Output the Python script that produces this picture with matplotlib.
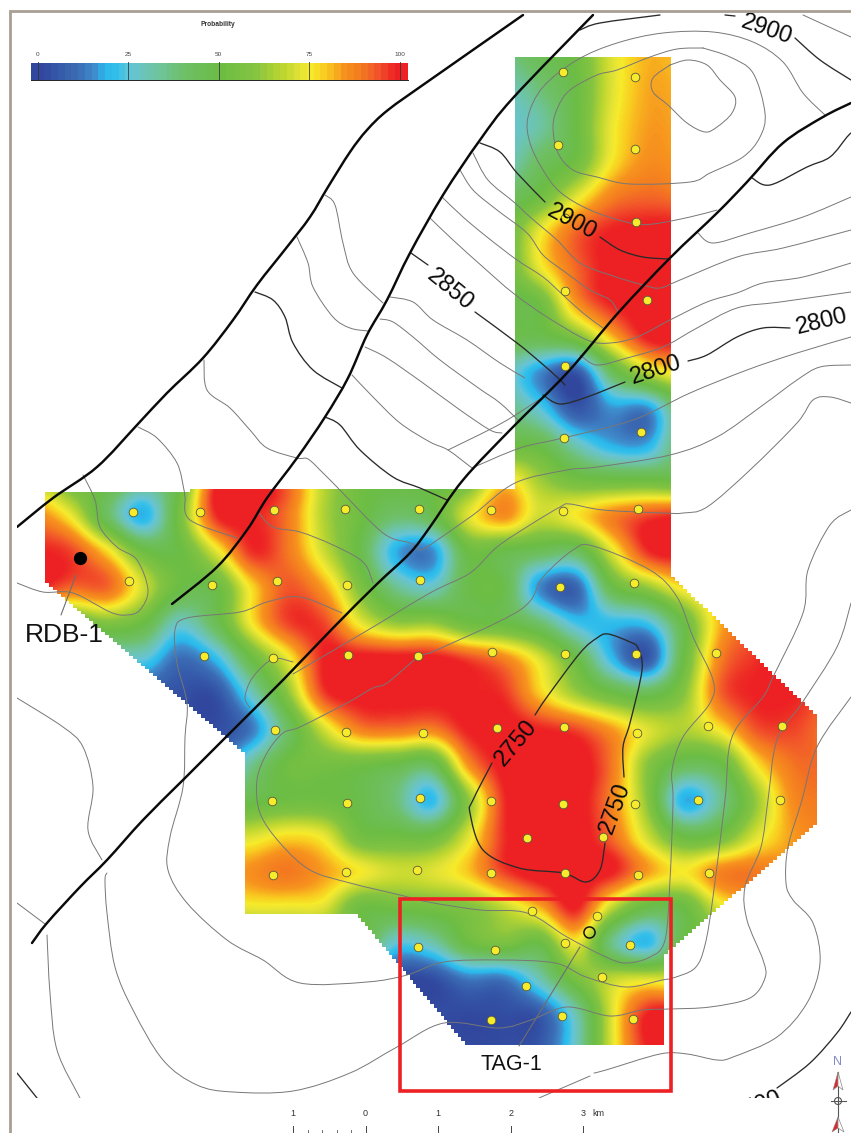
import numpy as np
import matplotlib
matplotlib.use("Agg")
import matplotlib.pyplot as plt
from matplotlib.colors import LinearSegmentedColormap, Normalize
from matplotlib.patches import PathPatch, Polygon, Rectangle, Circle
from matplotlib.path import Path

plt.rcParams['font.family'] = ['Liberation Sans', 'DejaVu Sans']

# ---------- probability field, read on a 36 px lattice of the map ----------
GRID_X = list(range(36, 829, 36))
GRID_Y = list(range(54, 1063, 36))
P_ROWS = {
 54:  (504, [36,45,52,72,82,80]),
 90:  (504, [28,38,50,72,83,82]),
 126: (504, [26,32,50,74,84,83]),
 162: (504, [27,42,52,76,86,84]),
 198: (504, [42,52,72,88,92,90]),
 234: (504, [50,74,92,100,102,102]),
 270: (504, [50,74,92,102,103,102]),
 306: (504, [48,52,85,100,102,102]),
 342: (504, [48,46,55,80,100,102]),
 378: (504, [30,14,3,42,66,78]),
 414: (504, [38,25,5,15,14,46]),
 450: (504, [50,48,30,18,18,44]),
 486: (36,  [68,54,50,38,50,96,102,90,66,52,50,50,55,78,64,54,52,52,50]),
 522: (36,  [88,74,42,18,55,98,100,90,66,52,40,46,72,86,70,76,88,96,100]),
 558: (36,  [100,96,78,52,50,72,98,90,70,48,18,14,50,48,44,42,72,98,102,100]),
 594: (36,  [100,92,92,70,50,50,78,94,84,58,35,28,48,48,14,8,48,62,78,85]),
 630: (72,  [50,58,50,28,45,76,96,96,74,62,62,52,50,40,22,20,22,50,82,92]),
 666: (144, [25,10,20,50,74,100,102,102,102,96,88,72,50,20,5,50,88,98,100]),
 702: (144, [5,3,3,28,60,96,102,102,102,100,98,80,64,52,46,60,92,100,100,95]),
 738: (180, [2,2,12,42,70,88,90,88,100,102,100,96,85,72,66,76,94,96,90]),
 774: (216, [10,35,52,54,52,48,44,85,102,104,104,90,60,44,48,76,90,92]),
 810: (216, [40,48,52,52,48,38,20,60,98,104,103,88,60,18,34,62,86,90]),
 846: (216, [70,72,78,74,54,52,52,72,98,104,103,92,70,50,54,72,84,88]),
 882: (216, [80,86,90,84,76,70,72,80,96,104,103,100,84,76,88,90,85,85]),
 918: (216, [72,74,74,72,52,52,54,58,68,82,100,68,48,50,72,80,80,80]),
 954: (324, [50,50,25,30,50,56,50,74,36,20,50]),
 990: (360, [20,2,2,12,12,30,55,68,72,70]),
 1026:(396, [2,2,1,2,5,30,72,100,102]),
 1062:(396, [2,2,1,2,5,28,72,100,102]),
}

CMAP_POS = [0, 10, 15, 18, 21, 25, 32, 40, 50, 60, 68, 73, 76, 80, 85, 90, 94, 100]
CMAP_COL = ['#31479e', '#3b6db5', '#3f8fcf', '#2ab8ec', '#35c0ea', '#67c5d6', '#6ec4a4', '#6fc068',
            '#6bbd45', '#85c441', '#bfd730', '#e5e436', '#f6eb2a', '#f9cb20', '#f7941e', '#f47a20',
            '#f2592a', '#ed2024']

# ---------- wells ----------
WELL_X = [563,635,558,635,636,565,565,647,565,564,641,
          133,200,274,345,419,491,563,638,
          129,212,277,347,420,560,634,
          204,273,348,418,492,565,636,716,
          275,346,423,497,564,637,708,782,
          272,347,420,491,563,635,698,780,527,603,
          273,346,417,491,565,638,709,
          532,597,565,630,418,495,602,526,491,562,633]
WELL_Y = [72,77,145,149,222,218,291,300,366,438,432,
          512,512,510,509,509,510,511,509,
          581,585,581,585,580,587,583,
          656,658,655,656,652,654,654,653,
          730,732,733,728,727,733,726,726,
          801,803,798,801,804,804,800,800,838,837,
          875,872,870,873,873,875,873,
          911,916,943,945,947,950,977,986,1020,1016,1019]
WELL_TAG = (589, 932)
WELL_RDB = (80, 558)

# ---------- faults ----------
FAULTS = [
 [(523,15),(430,80),(388,110),(367,130),(350,152),(328,187),(310,217),(287,247),(257,285),(233,320),(203,358),
  (167,393),(137,425),(97,467),(53,498),(17,527)],
 [(593,15),(513,98),(480,140),(443,195),(410,253),(387,300),(367,335),(348,378),(325,417),(297,458),
  (267,498),(247,530),(217,567),(172,604)],
 [(851,103),(823,117),(783,143),(747,182),(717,213),(670,258),(618,313),(567,373),
  (513,427),(463,480),(430,527),(410,553),(377,584),(333,628),(283,680),(233,730),(183,780),
  (143,820),(107,860),(80,887),(47,923),(32,943)],
]

# ---------- contours ----------
DARK_LINES = [
 [(580,30),(600,23),(660,15)],
 [(725,15),(735,16)],
 [(795,38),(820,60),(851,80)],
 [(480,143),(500,152),(517,173),(545,202)],
 [(600,237),(620,250),(643,257),(668,259)],
 [(752,178),(770,185),(807,167),(830,157),(847,137),(851,133)],
 [(411,253),(428,265)],
 [(475,312),(517,343),(540,362),(557,377),(565,385)],
 [(543,395),(560,404),(587,397),(625,382)],
 [(688,361),(707,355),(737,337),(763,328),(790,328)],
 [(255,292),(273,300),(285,317),(293,343),(313,370),(342,388)],
 [(325,417),(340,425),(360,450),(393,477),(420,488),(447,500)],
 [(535,715),(547,697),(580,653),(597,638),(608,634),(630,642),(638,648),(642,670),(630,723),(623,747),(624,777)],
 [(605,843),(600,870),(586,882),(563,873),(519,868),(483,850),(470,813),(473,800),(492,763)],
 [(777,1088),(810,1063),(837,1033),(851,1012)],
 [(17,1073),(37,1098)],
]
GRAY_LINES = [
 [(670,65),(688,60),(707,65),(720,80),(735,97),(732,113),(717,127),(705,132),(687,123),(668,105),(653,92),(653,78),(670,65)],
 [(703,48),(730,57),(753,73),(765,113),(760,137),(743,157),(710,173),(690,182),(630,184),(597,177),(573,170),(558,153),
  (553,127),(558,107),(570,90),(597,75),(617,70),(650,57),(677,49),(703,48)],
 [(825,115),(803,93),(783,62),(753,42),(713,32),(663,33),(617,43),(577,60),(543,87),(528,117),(530,143),(543,170),
  (560,192),(590,210),(630,223),(653,224),(690,217),(717,210)],
 [(803,15),(851,37)],
 [(473,153),(488,180),(515,203),(530,217),(557,240),(580,263),(610,275),(643,285),(660,288),(680,280),(737,257),(783,248),(851,230)],
 [(698,233),(713,243),(750,233),(803,217),(851,197)],
 [(460,170),(473,190),(497,210),(527,233),(543,255),(565,272),(590,290),(610,300),(618,312)],
 [(442,197),(463,217),(487,237),(517,260),(543,277),(563,295),(583,313),(603,328)],
 [(430,218),(453,240),(483,267),(513,293),(547,317),(587,340),(610,343),(637,337),(670,320),(707,302),(737,293),(763,283),(803,277),(851,263)],
 [(580,355),(597,365),(627,358),(663,347),(697,328),(737,308),(780,302),(851,292)],
 [(390,297),(413,302),(433,320),(467,340),(500,363),(525,378)],
 [(380,319),(393,322),(413,337),(440,360),(477,387),(500,403),(520,422)],
 [(365,347),(387,358),(423,383),(460,410),(490,430),(502,433)],
 [(352,375),(373,397),(400,423),(430,442),(448,450),(472,468)],
 [(448,450),(502,423),(543,397)],
 [(472,468),(520,448),(563,438),(633,420),(690,393),(747,370),(797,353),(851,337)],
 [(430,545),(473,515),(515,483),(567,470),(597,467),(670,455),(717,437),(763,405),(797,380),(820,367),(851,365)],
 [(204,360),(207,390),(230,408),(250,430),(267,448),(297,458),(308,459),(323,473),(337,487),(383,533),(410,543),(420,550),(430,545)],
 [(297,237),(308,263),(313,287),(333,317),(350,328),(368,331)],
 [(325,195),(335,205),(343,243),(353,273),(383,303)],
 [(138,427),(157,438),(177,463),(184,490),(185,497),(190,520),(237,538)],
 [(83,475),(95,500),(100,527),(117,547),(137,560),(148,590),(140,610),(127,615),(110,612),(73,593),(43,592),(17,583)],
 [(258,512),(273,527),(300,532),(333,545),(363,562),(373,583)],
 [(342,613),(300,597),(267,602),(240,612),(187,618),(175,630),(177,663),(187,703),(185,737),(183,787),(170,837),(168,870),
  (187,903),(227,940),(263,960),(300,983),(367,982),(407,975),(444,962),(500,960),(555,963),(586,977),(626,987),(662,980),
  (673,978),(695,968),(705,945),(713,897),(725,800),(732,737),(763,697),(773,677),(803,613),(808,570),(830,525),(851,510)],
 [(293,674),(363,633),(430,593),(470,573),(497,547),(530,525),(560,507),(570,504),(603,510),(663,513),(683,513),(707,507),
  (750,470),(797,423),(813,400),(830,397),(851,403)],
 [(293,662),(273,659),(253,677),(245,697),(250,708)],
 [(430,653),(417,658),(387,683),(373,688),(347,703),(300,727),(283,733),(267,753),(257,780),(260,813),(280,843),(310,870),(350,883),
  (400,895),(428,902),(480,910),(527,913),(567,937),(606,957),(626,963),(650,957),(665,940),(670,880),(673,800),(672,770),(683,737),
  (710,703),(713,680),(693,637),(677,597),(650,570),(593,546),(573,550),(543,577),(520,610),(430,653)],
 [(851,603),(837,647),(802,703),(777,740),(768,800),(761,847),(745,887),(747,920),(763,960),(765,978),(750,998),(710,1007),(670,1009),
  (642,1010),(610,1016),(567,1007),(531,1020),(499,1028),(444,1023),(397,1047),(350,1073),(293,1091),(233,1092),(197,1085),(163,1060),
  (133,1010),(115,967),(107,913),(105,880),(107,873)],
 [(851,697),(817,747),(802,800),(788,847),(786,883),(793,900),(813,923),(820,963),(807,1003),(777,1037),(733,1057),(717,1060),(687,1054),
  (660,1054),(606,1070),(594,1073)],
 [(590,1076),(539,1098)],
 [(47,935),(50,993),(57,1050),(80,1098)],
 [(17,903),(45,924)],
 [(17,698),(63,727),(83,747),(93,787),(88,830),(102,860)],
]
LEADERS = [[(76,575),(61,615)], [(580,947),(519,1046)]]

CONTOUR_LABELS = [("2900",767,30,-19),("2900",572,222,-28),("2850",450,290,-39),
                  ("2800",656,370,18),("2800",822,322,14),("2750",516,743,50),("2750",615,808,70)]
CBAR_TICKS = [0, 25, 50, 75, 100]
SCALE_LABELS = ["1", "0", "1", "2", "3"]

W, H = 851, 1133
fig = plt.figure(figsize=(W/100, H/100), dpi=100, facecolor='white')
ax = fig.add_axes([0, 0, 1, 1])

cmap = LinearSegmentedColormap.from_list('prob', [(p/100, c) for p, c in zip(CMAP_POS, CMAP_COL)], N=256)
norm = Normalize(0, 100)

# lattice -> image; cells beyond the mapped area repeat the nearest read value
Z = np.full((len(GRID_Y), len(GRID_X)), np.nan)
for i, y in enumerate(GRID_Y):
    x0, vals = P_ROWS[y]
    j0 = GRID_X.index(x0)
    Z[i, j0:j0+len(vals)] = vals
    row = Z[i]
    good = np.where(~np.isnan(row))[0]
    for j in range(len(row)):
        if np.isnan(row[j]):
            row[j] = row[good[np.argmin(np.abs(good-j))]]


def stairs(a, b, step=4):
    (x0, y0), (x1, y1) = a, b
    n = int(max(abs(x1-x0), abs(y1-y0))/step)
    pts = []
    for k in range(n):
        xa = x0+(x1-x0)*k/n; ya = y0+(y1-y0)*k/n
        pts += [(xa, ya), (x0+(x1-x0)*(k+1)/n, ya)]
    return pts


outline = [(515,57),(671,57)] + stairs((671,577),(817,718)) + [(817,718)] + stairs((817,825),(664,957)) + \
          [(664,957),(664,1045)] + stairs((468,1045),(358,914)) + [(358,914),(245,914)] + \
          stairs((245,752),(45,580)) + [(45,580),(45,492),(190,492),(190,489),(515,489)]
field_clip = Polygon(outline, closed=True, transform=ax.transData, fc='none', ec='none')
ax.add_patch(field_clip)
im = ax.imshow(Z, extent=(18, 846, 1068, 36), origin='upper', cmap=cmap, norm=norm,
               interpolation='catrom', interpolation_stage='data', aspect='auto', zorder=1)
im.set_clip_path(field_clip)


def smooth_path(pts):
    p = np.array(pts, float)
    q = np.vstack([p[0], p, p[-1]])
    verts = [tuple(p[0])]; codes = [Path.MOVETO]
    for i in range(1, len(q)-2):
        c1 = q[i] + (q[i+1]-q[i-1])/6
        c2 = q[i+1] - (q[i+2]-q[i])/6
        verts += [tuple(c1), tuple(c2), tuple(q[i+1])]
        codes += [Path.CURVE4]*3
    return Path(verts, codes)


map_box = Rectangle((17, 14), 834, 1084, transform=ax.transData, fc='none', ec='none')
ax.add_patch(map_box)


def draw(lines, color, lw, z):
    for pts in lines:
        pp = PathPatch(smooth_path(pts), fc='none', ec=color, lw=lw, zorder=z, capstyle='round')
        ax.add_patch(pp)
        pp.set_clip_path(map_box)


draw(GRAY_LINES, '#777777', 0.7, 3)
draw(DARK_LINES, '#2a2a2a', 0.95, 3)
draw(LEADERS, '#6e6e6e', 0.8, 3)
draw(FAULTS, '#0a0a0a', 1.75, 4)

ax.plot(WELL_X, WELL_Y, ls='none', marker='o', ms=6.2, mfc='#f7ec2c', mec='#5a5a3a', mew=0.6, zorder=5)
ax.plot(*WELL_TAG, marker='o', ms=8, mfc='none', mec='#111111', mew=1.1, zorder=5)
ax.plot(*WELL_RDB, marker='o', ms=8.5, mfc='black', mec='black', zorder=5)

for s, x, y, r in CONTOUR_LABELS:
    ax.text(x, y, s, fontsize=17, rotation=r, ha='center', va='center', color='#0a0a0a',
            rotation_mode='anchor', zorder=6)
lab = ax.text(757, 1106, "2700", fontsize=17, rotation=20, ha='center', va='center', color='#0a0a0a',
              rotation_mode='anchor', zorder=6)
ax.add_patch(Rectangle((700, 1098), 110, 30, fc='white', ec='none', zorder=6.5))

ax.text(64, 635, "RDB-1", fontsize=19, ha='center', va='center', color='#111111', zorder=7)
ax.text(511, 1064, "TAG-1", fontsize=15.5, ha='center', va='center', color='#111111', zorder=7)
ax.add_patch(Rectangle((400, 899), 271, 192, fc='none', ec='#ed2024', lw=2.6, zorder=7))

# frame
ax.plot([10, 10, 851], [1133, 11, 11], color='#a89e93', lw=2, zorder=8, solid_joinstyle='miter')

# colour bar
cvals = np.linspace(-2, 102, 56).reshape(1, -1)
ax.imshow(cvals, extent=(31, 408, 80, 63), origin='upper', cmap=cmap, norm=norm, interpolation='nearest',
          aspect='auto', zorder=5)
ax.plot([31, 408], [80, 80], color='#222222', lw=0.7, zorder=6)
for t in CBAR_TICKS:
    x = 38 + t*3.615
    ax.plot([x, x], [62, 80], color='#333333', lw=0.7, alpha=0.8, zorder=6)
    ax.text(x, 55, str(t), fontsize=4.6, ha='center', va='center', color='#444444', zorder=6)
ax.text(218, 24.5, "Probability", fontsize=4.8, fontweight='bold', ha='center', va='center', color='#333333', zorder=6)

# scale bar
for i, s in enumerate(SCALE_LABELS):
    x = 293 + i*72.6
    ax.text(x, 1114, s, fontsize=6.5, ha='center', va='center', color='#333333', zorder=6)
    ax.plot([x, x], [1126, 1133], color='#444444', lw=0.7, zorder=6)
for k in range(1, 5):
    x = 293 + k*14.5
    ax.plot([x, x], [1130, 1133], color='#555555', lw=0.6, zorder=6)
ax.text(598, 1114, "km", fontsize=6.5, ha='center', va='center', color='#333333', zorder=6)

# north arrow
ax.text(838, 1062, "N", fontsize=9, ha='center', va='center', color='#7f8cc8', zorder=6)
ax.plot([838, 838], [1072, 1133], color='#555555', lw=0.8, zorder=6)
ax.plot([831, 846], [1101, 1101], color='#555555', lw=0.8, zorder=6)
ax.add_patch(Circle((838, 1101), 3.5, fc='none', ec='#555555', lw=0.8, zorder=6))
ax.add_patch(Polygon([(838,1072),(833,1090),(838,1086)], fc='#e0262a', ec='#888888', lw=0.4, zorder=7))
ax.add_patch(Polygon([(838,1072),(843,1090),(838,1086)], fc='white', ec='#888888', lw=0.5, zorder=7))
ax.add_patch(Polygon([(838,1117),(832,1132),(838,1128)], fc='#e0262a', ec='#888888', lw=0.4, zorder=7))
ax.add_patch(Polygon([(838,1117),(844,1132),(838,1128)], fc='white', ec='#888888', lw=0.5, zorder=7))

ax.set_xlim(0, W)
ax.set_ylim(H, 0)
ax.axis('off')
fig.savefig('out.png', dpi=100, facecolor='white')
